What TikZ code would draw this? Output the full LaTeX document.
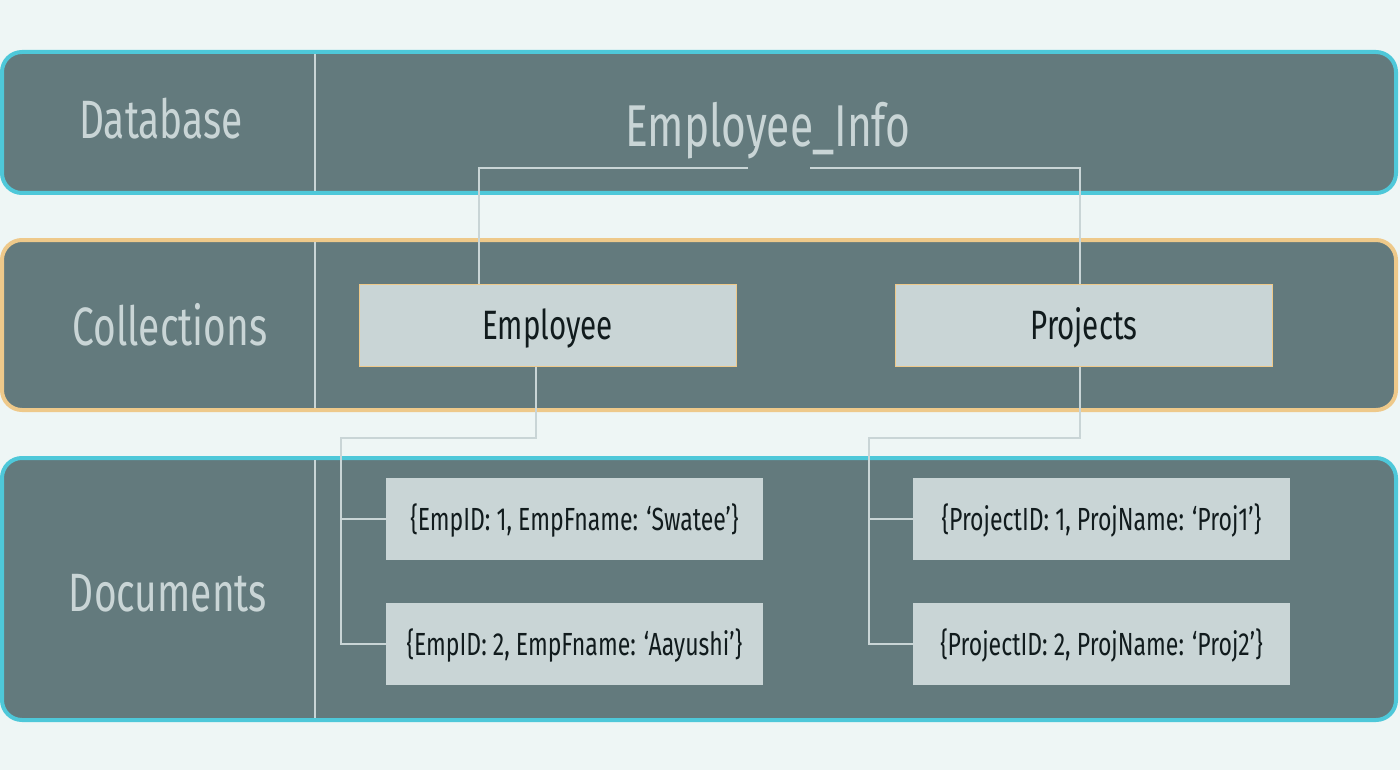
\documentclass[tikz,border=0pt]{standalone}
\usepackage{fontspec}
\setmainfont{Fira Sans}[FakeStretch=0.72]
\definecolor{bgcol}{HTML}{EEF6F5}
\definecolor{bandfill}{HTML}{637A7D}
\definecolor{bandcyan}{HTML}{4EC8D9}
\definecolor{bandorange}{HTML}{EEC98A}
\definecolor{boxfill}{HTML}{C9D5D6}
\definecolor{darktext}{HTML}{111B1D}
\tikzset{
    band/.style = {
        draw=bandcyan,
        fill=bandfill,
        line width=2pt,
        rounded corners=10pt},
    collband/.style = {
        band,
        draw=bandorange},
    divider/.style = {
        draw=boxfill,
        line width=1pt},
    layer/.style = {
        text=boxfill,
        anchor=base,
        font=\fontsize{27}{30}\selectfont},
    collbox/.style = {
        draw=bandorange,
        fill=boxfill,
        line width=0.5pt,
        text=darktext,
        inner sep=0pt,
        minimum width=188.5pt,
        minimum height=41pt,
        text height=14pt,
        text depth=0pt,
        font=\fontsize{20.5}{24}\selectfont},
    docbox/.style = {
        collbox,
        draw=none,
        text height=11pt,
        font=\fontsize{16}{19}\selectfont},
    link/.style = {
        draw=boxfill,
        line width=1pt}
}
\begin{document}
\begin{tikzpicture}[
    x = 0.5pt,
    y = -0.5pt
]

\fill[bgcol] (0,0) rectangle (1400,770);
\useasboundingbox (0,0) rectangle (1400,770);

\draw[band]     (2,52)  rectangle (1396,193);
\draw[collband] (2,240) rectangle (1396,410);
\draw[band]     (2,458) rectangle (1396,720);
\draw[divider]  (315,54)  -- (315,191);
\draw[divider]  (315,242) -- (315,408);
\draw[divider]  (315,460) -- (315,718);

\node [layer] (dblabel)   at (161,139) {Database};
\node [layer] (colllabel) at (170,345) {Collections};
\node [layer] (doclabel)  at (168,611) {Documents};
\node [layer, font=\fontsize{29.5}{33}\selectfont] (info) at (768,147) {Employee\_Info};

\node [collbox] (emp)  at (547.5,325.5) {Employee};
\node [collbox] (proj) at (1084,325.5)  {Projects};

\node [docbox] (edoc1) at (574.5,519)  {\{EmpID: 1, EmpFname: ‘Swatee’\}};
\node [docbox] (edoc2) at (574.5,644)  {\{EmpID: 2, EmpFname: ‘Aayushi’\}};
\node [docbox] (pdoc1) at (1101.5,519) {\{ProjectID: 1, ProjName: ‘Proj1’\}};
\node [docbox] (pdoc2) at (1101.5,644) {\{ProjectID: 2, ProjName: ‘Proj2’\}};

\coordinate (infoL) at (748,168);
\coordinate (infoR) at (810,168);
\coordinate (ejoin) at (341,438);
\coordinate (pjoin) at (869,438);

\draw[link] (infoL) -| ([xshift=-34.5pt]emp.north);
\draw[link] (infoR) -| ([xshift=-2pt]proj.north);
\draw[link] ([xshift=-6pt]emp.south) |- (ejoin) |- (edoc2.west);
\draw[link] (ejoin) |- (edoc1.west);
\draw[link] ([xshift=-2pt]proj.south) |- (pjoin) |- (pdoc2.west);
\draw[link] (pjoin) |- (pdoc1.west);

\end{tikzpicture}
\end{document}
